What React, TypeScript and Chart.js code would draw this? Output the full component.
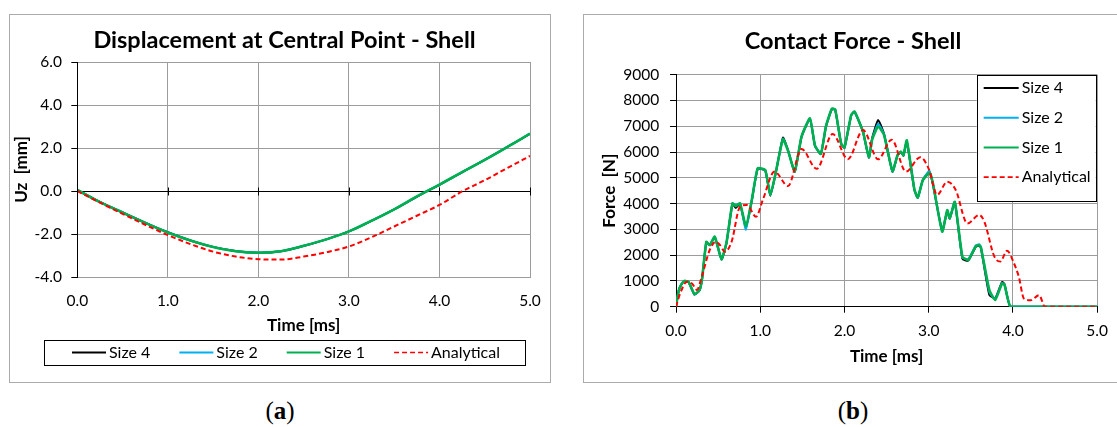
import React, { useEffect, useRef } from "react";
import { Chart, registerables } from "chart.js";

Chart.register(...registerables);

// ---------------- data ----------------
const seriesLabels = ["Size 4", "Size 2", "Size 1", "Analytical"];
const seriesColors = ["#000000", "#00b0f0", "#00b050", "#ff0000"];

const dispTime = [0, 0.25, 0.5, 0.75, 1.0, 1.25, 1.5, 1.75, 2.0, 2.25, 2.5, 2.75, 3.0, 3.25, 3.5, 3.75, 4.0, 4.25, 4.5, 4.75, 5.0];
const dispSize4 = [0.05, -0.51, -1.0, -1.47, -1.92, -2.3, -2.6, -2.79, -2.87, -2.8, -2.56, -2.25, -1.88, -1.39, -0.86, -0.27, 0.29, 0.87, 1.45, 2.05, 2.66];
const dispSize2 = [0.05, -0.52, -1.0, -1.48, -1.93, -2.31, -2.6, -2.8, -2.87, -2.8, -2.55, -2.25, -1.88, -1.38, -0.85, -0.26, 0.3, 0.88, 1.45, 2.05, 2.67];
const dispSize1 = [0.05, -0.52, -1.0, -1.48, -1.93, -2.3, -2.6, -2.8, -2.87, -2.8, -2.55, -2.25, -1.88, -1.38, -0.85, -0.25, 0.3, 0.88, 1.45, 2.05, 2.67];
const dispAnalytical = [0, -0.54, -1.06, -1.57, -2.05, -2.47, -2.82, -3.05, -3.17, -3.19, -3.05, -2.85, -2.58, -2.15, -1.65, -1.15, -0.65, -0.02, 0.5, 1.07, 1.63];

const forceTimeFE = [0, 0.03, 0.06, 0.1, 0.15, 0.22, 0.28, 0.31, 0.36, 0.4, 0.46, 0.54, 0.6, 0.67, 0.71, 0.76, 0.83, 0.9, 0.97, 1.06, 1.12, 1.19, 1.27, 1.33, 1.41, 1.49, 1.59, 1.65, 1.72, 1.78, 1.85, 1.89, 1.96, 2.0, 2.08, 2.12, 2.22, 2.29, 2.33, 2.4, 2.47, 2.57, 2.63, 2.67, 2.7, 2.74, 2.83, 2.87, 2.93, 3.01, 3.05, 3.16, 3.22, 3.25, 3.31, 3.4, 3.47, 3.56, 3.6, 3.62, 3.72, 3.79, 3.87, 3.9, 3.97, 4.2, 4.5, 5.0];
const forceSize4 = [0, 580, 840, 990, 950, 470, 640, 1080, 2500, 2380, 2700, 1830, 2480, 3990, 3830, 3990, 3080, 4120, 5350, 5280, 4300, 5280, 6560, 6070, 5230, 6580, 7290, 6240, 5920, 6980, 7660, 7640, 6320, 6160, 7420, 7560, 6780, 5780, 6560, 7240, 6700, 5240, 5870, 6000, 5860, 6400, 4530, 4220, 4920, 5230, 4750, 2950, 3700, 3420, 4050, 1860, 1790, 2330, 2370, 2280, 450, 330, 960, 870, 0, 0, 0, 0];
const forceSize2 = [0, 590, 850, 1000, 955, 475, 645, 1090, 2510, 2390, 2710, 1840, 2490, 4000, 3950, 4000, 2980, 4130, 5360, 5290, 4320, 5290, 6520, 6060, 5240, 6590, 7300, 6250, 5930, 6990, 7670, 7650, 6330, 6170, 7430, 7560, 6780, 5790, 6520, 7100, 6680, 5250, 5880, 6010, 5870, 6420, 4540, 4230, 4910, 5280, 4770, 2930, 3720, 3430, 4060, 1900, 1850, 2380, 2420, 2320, 560, 300, 920, 860, 0, 0, 0, 0];
const forceSize1 = [0, 600, 850, 1000, 960, 480, 650, 1100, 2520, 2390, 2720, 1840, 2500, 4010, 3900, 4010, 3120, 4140, 5370, 5300, 4330, 5300, 6500, 6050, 5250, 6600, 7310, 6250, 5930, 7000, 7680, 7650, 6340, 6180, 7440, 7570, 6790, 5800, 6500, 6990, 6660, 5260, 5880, 6020, 5880, 6450, 4550, 4240, 4900, 5200, 4790, 2910, 3750, 3430, 4070, 1940, 1810, 2350, 2380, 2300, 640, 260, 900, 850, 0, 0, 0, 0];

const forceTimeAn = [0, 0.05, 0.13, 0.19, 0.25, 0.3, 0.4, 0.47, 0.52, 0.58, 0.66, 0.76, 0.84, 0.95, 1.03, 1.17, 1.33, 1.49, 1.67, 1.86, 2.04, 2.22, 2.4, 2.56, 2.73, 2.9, 3.0, 3.1, 3.22, 3.32, 3.46, 3.6, 3.66, 3.78, 3.85, 3.93, 4.01, 4.07, 4.13, 4.21, 4.31, 4.38, 4.6, 5.0];
const forceAnalytical = [0, 520, 970, 900, 650, 1100, 2200, 2520, 2400, 2130, 2520, 3880, 3950, 3490, 4140, 5240, 4680, 6120, 5350, 6700, 5720, 6850, 5720, 6480, 5240, 5800, 5350, 4340, 4850, 4530, 3230, 3560, 3300, 1940, 1750, 2170, 1700, 1160, 320, 250, 450, 0, 0, 0];

// ---------------- styling ----------------
const FONT = "Lato, 'Noto Sans', sans-serif";
const GRID = "#9c9c9c";
const FRAME = "#ababab";

function pts(xs: number[], ys: number[]) {
  return xs.map((x, i) => ({ x, y: ys[i] }));
}

const frameBoxPlugin = {
  id: "frameBox",
  beforeDraw(chart: any, _a: any, o: any) {
    const ctx = chart.ctx;
    ctx.save();
    ctx.strokeStyle = o.color;
    ctx.lineWidth = 1;
    ctx.strokeRect(o.x + 0.5, o.y + 0.5, o.w, o.h);
    ctx.restore();
  },
};

const zeroTicksPlugin = {
  id: "zeroTicks",
  afterDatasetsDraw(chart: any, _a: any, o: any) {
    if (!o || !o.len) return;
    const { ctx } = chart;
    const xS = chart.scales.x;
    const yS = chart.scales.y;
    const y0 = Math.round(yS.getPixelForValue(0)) + 0.5;
    ctx.save();
    ctx.strokeStyle = "#000";
    ctx.lineWidth = 1;
    ctx.beginPath();
    xS.ticks.forEach((t: any) => {
      const px = Math.round(xS.getPixelForValue(t.value)) + 0.5;
      ctx.moveTo(px, y0 - o.len);
      ctx.lineTo(px, y0 + o.len);
    });
    ctx.stroke();
    ctx.restore();
  },
};

const boxLegendPlugin = {
  id: "boxLegend",
  afterDraw(chart: any, _a: any, o: any) {
    const { ctx, chartArea } = chart;
    ctx.save();
    ctx.font = `${o.fontSize}px ${FONT}`;
    ctx.textBaseline = "middle";
    ctx.textAlign = "left";
    const items = chart.data.datasets.map((ds: any) => ({
      label: ds.label,
      color: ds.borderColor,
      dash: ds.borderDash || [],
      width: ds.borderDash ? 1.6 : 2,
      tw: ctx.measureText(ds.label).width,
    }));
    let bx: number, by: number;
    if (o.horizontal) {
      bx = o.left;
      by = o.top;
    } else {
      bx = chartArea.right - o.rightInset - o.width;
      by = chartArea.top + o.topInset;
    }
    ctx.fillStyle = "#fff";
    ctx.fillRect(bx, by, o.width, o.height);
    ctx.strokeStyle = "#000";
    ctx.lineWidth = 1;
    ctx.strokeRect(Math.round(bx) + 0.5, Math.round(by) + 0.5, Math.round(o.width), Math.round(o.height));
    const drawItem = (it: any, x: number, y: number) => {
      ctx.strokeStyle = it.color;
      ctx.lineWidth = it.width;
      ctx.setLineDash(it.dash);
      ctx.beginPath();
      ctx.moveTo(x, y);
      ctx.lineTo(x + o.lineLen, y);
      ctx.stroke();
      ctx.setLineDash([]);
      ctx.fillStyle = "#000";
      ctx.fillText(it.label, x + o.lineLen + o.textGap, y);
    };
    if (o.horizontal) {
      const total = items.reduce((s: number, it: any) => s + o.lineLen + o.textGap + it.tw, 0) + o.itemGap * (items.length - 1);
      let x = o.centerX - total / 2;
      const y = by + o.height / 2;
      items.forEach((it: any) => {
        drawItem(it, x, y);
        x += o.lineLen + o.textGap + it.tw + o.itemGap;
      });
    } else {
      items.forEach((it: any, i: number) => {
        drawItem(it, bx + o.padX, by + o.firstY + i * o.rowStep);
      });
    }
    ctx.restore();
  },
};

function makeDatasets(
  xsFE: number[],
  s4: number[],
  s2: number[],
  s1: number[],
  xsAn: number[],
  an: number[],
  feTension: number
) {
  const common = { pointRadius: 0, pointHoverRadius: 0, fill: false };
  return [
    { ...common, label: seriesLabels[0], data: pts(xsFE, s4), borderColor: seriesColors[0], borderWidth: 2, tension: feTension, order: 4 },
    { ...common, label: seriesLabels[1], data: pts(xsFE, s2), borderColor: seriesColors[1], borderWidth: 2, tension: feTension, order: 3 },
    { ...common, label: seriesLabels[2], data: pts(xsFE, s1), borderColor: seriesColors[2], borderWidth: 2.6, tension: feTension, order: 2 },
    { ...common, label: seriesLabels[3], data: pts(xsAn, an), borderColor: seriesColors[3], borderWidth: 2, borderDash: [5, 3], cubicInterpolationMode: "monotone", order: 1 },
  ];
}

const tickFont = { family: FONT, size: 15.5 };
const axisTitleFont = { family: FONT, size: 17, weight: "bold" as const };
const titleFont = { family: FONT, size: 23.5, weight: "bold" as const };

function configA(): any {
  return {
    type: "line",
    data: { datasets: makeDatasets(dispTime, dispSize4, dispSize2, dispSize1, dispTime, dispAnalytical, 0.4) },
    plugins: [frameBoxPlugin, zeroTicksPlugin, boxLegendPlugin],
    options: {
      responsive: false,
      animation: false,
      events: [],
      layout: { padding: { left: 9, right: 0, top: 0, bottom: 58.8 } },
      plugins: {
        legend: { display: false },
        tooltip: { enabled: false },
        title: {
          display: true,
          text: "Displacement at Central Point - Shell",
          color: "#000",
          font: titleFont,
          padding: { top: 25.9, bottom: 7.9 },
        },
        frameBox: { x: 9, y: 14, w: 541, h: 368, color: FRAME },
        zeroTicks: { len: 4 },
        boxLegend: { horizontal: true, left: 44, top: 340, width: 481, height: 25, centerX: 286, lineLen: 34, textGap: 3, itemGap: 29, fontSize: 16 },
      },
      scales: {
        x: {
          type: "linear",
          position: "bottom",
          min: 0,
          max: 5,
          ticks: { stepSize: 1, color: "#000", font: tickFont, padding: 14.7, maxRotation: 0, callback: (v: any) => Number(v).toFixed(1) },
          grid: { color: GRID, drawTicks: false },
          border: { color: GRID },
          title: { display: true, text: "Time [ms]", color: "#000", font: axisTitleFont, padding: 0 },
          afterFit: (s: any) => { s.height = 59.2; },
        },
        y: {
          type: "linear",
          position: "left",
          min: -4,
          max: 6,
          ticks: { stepSize: 2, color: "#000", font: tickFont, padding: 9.3, callback: (v: any) => Number(v).toFixed(1) },
          grid: {
            color: (c: any) => (c.tick && c.tick.value === 0 ? "#000" : GRID),
            tickColor: "#000",
            tickLength: 6,
          },
          border: { color: "#000" },
          title: { display: true, text: "Uz  [mm]", color: "#000", font: axisTitleFont, padding: { top: 2.8, bottom: 0 } },
          afterFit: (s: any) => { s.width = 68.3; },
        },
        yPad: {
          type: "linear",
          position: "right",
          grid: { display: false },
          ticks: { display: false },
          border: { display: false },
          afterFit: (s: any) => { s.width = 30; },
        },
      },
    },
  };
}

function configB(): any {
  return {
    type: "line",
    data: { datasets: makeDatasets(forceTimeFE, forceSize4, forceSize2, forceSize1, forceTimeAn, forceAnalytical, 0.15) },
    plugins: [frameBoxPlugin, boxLegendPlugin],
    options: {
      responsive: false,
      animation: false,
      events: [],
      layout: { padding: { left: 30, right: 1, top: 0, bottom: 27.8 } },
      plugins: {
        legend: { display: false },
        tooltip: { enabled: false },
        title: {
          display: true,
          text: "Contact Force - Shell",
          color: "#000",
          font: titleFont,
          padding: { top: 27.6, bottom: 18.9 },
        },
        frameBox: { x: 23, y: 14, w: 560, h: 368, color: FRAME },
        boxLegend: { horizontal: false, rightInset: 1.5, topInset: 0.3, width: 119, height: 126, padX: 7, firstY: 13, rowStep: 29.7, lineLen: 35, textGap: 3, fontSize: 16 },
      },
      scales: {
        x: {
          type: "linear",
          position: "bottom",
          min: 0,
          max: 5,
          ticks: { stepSize: 1, color: "#000", font: tickFont, padding: 9, maxRotation: 0, callback: (v: any) => Number(v).toFixed(1) },
          grid: { color: GRID, drawTicks: true, tickLength: 6, tickColor: "#000" },
          border: { color: "#000" },
          title: { display: true, text: "Time [ms]", color: "#000", font: axisTitleFont, padding: 0 },
          afterFit: (s: any) => { s.height = 60.5; },
        },
        y: {
          type: "linear",
          position: "left",
          min: 0,
          max: 9000,
          ticks: { stepSize: 1000, color: "#000", font: tickFont, padding: 10.7, callback: (v: any) => String(v) },
          grid: { color: GRID, tickColor: "#000", tickLength: 6 },
          border: { color: "#000" },
          title: { display: true, text: "Force  [N]", color: "#000", font: axisTitleFont, padding: { top: 9.8, bottom: 0 } },
          afterFit: (s: any) => { s.width = 86; },
        },
        yPad: {
          type: "linear",
          position: "right",
          grid: { display: false },
          ticks: { display: false },
          border: { display: false },
          afterFit: (s: any) => { s.width = 17.5; },
        },
      },
    },
  };
}

function ChartCanvas(props: { make: () => any; width: number; height: number; left: number }) {
  const ref = useRef<HTMLCanvasElement | null>(null);
  useEffect(() => {
    if (!ref.current) return;
    const chart = new Chart(ref.current, props.make());
    return () => chart.destroy();
  }, []);
  return (
    <canvas
      ref={ref}
      width={props.width}
      height={props.height}
      style={{ position: "absolute", left: props.left, top: 0, width: props.width, height: props.height }}
    />
  );
}

const panelStyle: React.CSSProperties = {
  position: "absolute",
  top: 396,
  textAlign: "center",
  fontFamily: "'Liberation Serif', serif",
  fontSize: 25,
  color: "#000",
  lineHeight: "30px",
};

export default function App() {
  return (
    <div style={{ position: "absolute", left: 0, top: 0, width: 1117, height: 427, background: "#fff", overflow: "hidden" }}>
      <ChartCanvas make={configA} width={560} height={395} left={0} />
      <ChartCanvas make={configB} width={557} height={395} left={560} />
      <div style={{ ...panelStyle, left: 0, width: 560 }}>
        (<b>a</b>)
      </div>
      <div style={{ ...panelStyle, left: 560, width: 586 }}>
        (<b>b</b>)
      </div>
    </div>
  );
}
